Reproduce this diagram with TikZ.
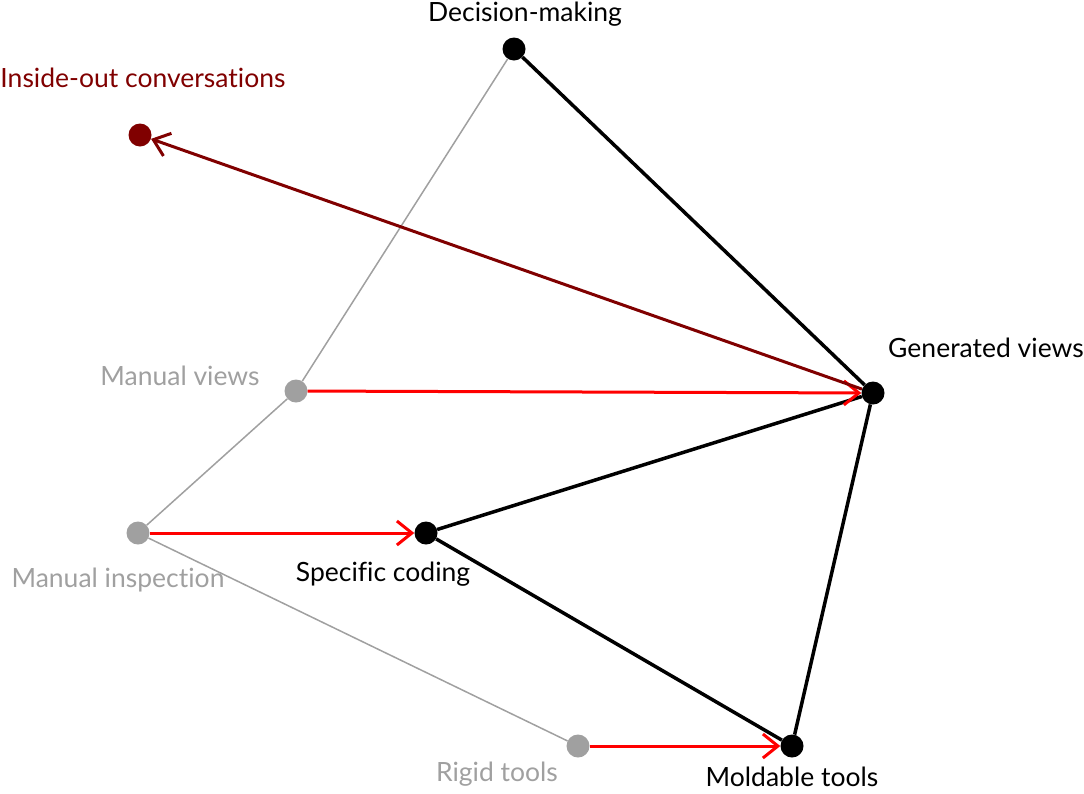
\documentclass[tikz,border=0pt]{standalone}
\usepackage{fontspec}
\setmainfont{Lato}[Ligatures=NoCommon]
\usepackage{tikz}
\usetikzlibrary{arrows.meta,positioning}

\definecolor{fadedgrey}{RGB}{160,160,160}
\definecolor{insidered}{RGB}{128,0,0}

\begin{document}
\begin{tikzpicture}[x=1pt,y=-1pt,
    dot/.style={circle,fill=black,inner sep=0pt,minimum size=23pt},
    olddot/.style={dot,fill=fadedgrey},
    txt/.style={inner sep=0pt,font=\fontsize{26.5}{30}\selectfont},
    oldtxt/.style={txt,text=fadedgrey},
    newline/.style={line width=3.5pt},
    oldline/.style={fadedgrey,line width=1.5pt},
    move/.style={red,line width=3pt,-{Straight Barb[length=15pt,width=24pt,line width=3pt]}}]
\useasboundingbox (0,0) rectangle (1084,793);
% the dots
  \node[dot]    (decision)   at (514,49)  {};
  \node[dot,fill=insidered] (insideout) at (140,135) {};
  \node[dot]    (generated)  at (873,393) {};
  \node[olddot] (manviews)   at (296,391) {};
  \node[olddot] (maninspect) at (138,533) {};
  \node[dot]    (specific)   at (426,533) {};
  \node[olddot] (rigid)      at (578,746) {};
  \node[dot]    (moldable)   at (792,746) {};

% the labels
  \node[txt]    (decisionlbl)   at (525,14)  {Decision-making};
  \node[txt,text=insidered] (insideoutlbl) at (143,78) {Inside-out conversations};
  \node[txt]    (generatedlbl)  at (986,348) {Generated views};
  \node[oldtxt] (manviewslbl)   at (180,376) {Manual views};
  \node[oldtxt] (maninspectlbl) at (118,580) {Manual inspection};
  \node[txt]    (specificlbl)   at (383,574) {Specific coding};
  \node[oldtxt] (rigidlbl)      at (497,774) {Rigid tools};
  \node[txt]    (moldablelbl)   at (792,777) {Moldable tools};

% old world
  \draw[oldline] (decision) -- (manviews) -- (maninspect) -- (rigid);
% new world
  \draw[newline] (decision) -- (generated) -- (specific) -- (moldable) -- (generated);
% moves
  \draw[move] (manviews) -- (generated);
  \draw[move] (maninspect) -- (specific);
  \draw[move] (rigid) -- (moldable);
  \draw[move,insidered] (generated) -- (insideout);
\end{tikzpicture}
\end{document}
